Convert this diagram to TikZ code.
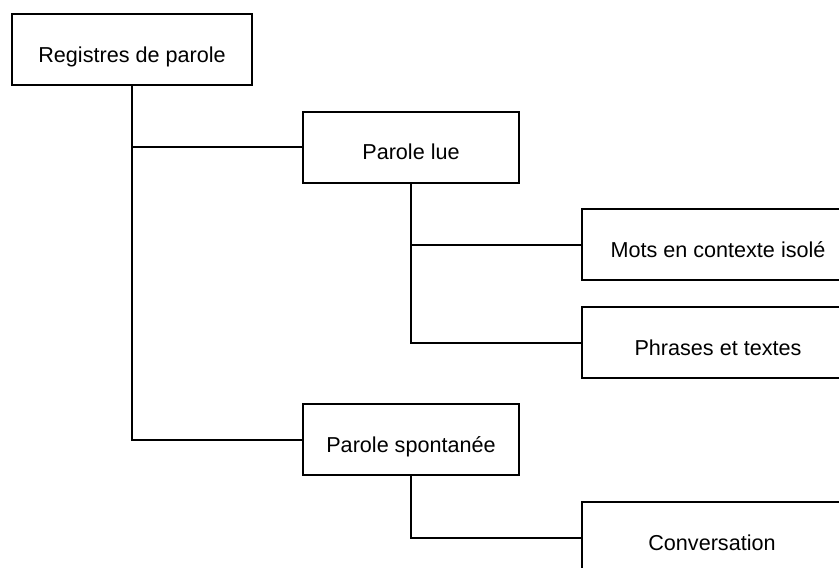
\documentclass[tikz,border=0pt]{standalone}
\usepackage{fontspec}
\setmainfont{Liberation Sans}
\usepackage{tikz}
\tikzset{boite/.style={draw=black, fill=white, line width=2pt, inner sep=0pt, minimum height=71pt,
    font=\fontsize{21.6}{26}\selectfont, text height=25.5pt, text depth=0pt}}
\tikzset{lien/.style={draw=black, line width=2pt}}

\begin{document}
\begin{tikzpicture}[x=1pt,y=-1pt]
\useasboundingbox (0,0) rectangle (839,568);
\clip (0,0) rectangle (839,568);
% level 1
\node[boite, minimum width=240pt] (reg) at (132,49.5) {Registres de parole};
% level 2
\node[boite, minimum width=216pt] (lue) at (411,147) {Parole lue};
\node[boite, minimum width=216pt] (spont) at (411,439.5) {Parole spontan\'ee};
% level 3
\node[boite, minimum width=272pt] (mots) at (718,244.5) {Mots en contexte isol\'e};
\node[boite, minimum width=272pt] (phrases) at (718,342.5) {Phrases et textes};
\node[boite, minimum width=260pt] (conv) at (712,537.5) {Conversation};
% links
\draw[lien] (reg.south) |- (lue.west);
\draw[lien] (reg.south) |- (spont.west);
\draw[lien] (lue.south) |- (mots.west);
\draw[lien] (lue.south) |- (phrases.west);
\draw[lien] (spont.south) |- (conv.west);
\end{tikzpicture}
\end{document}
